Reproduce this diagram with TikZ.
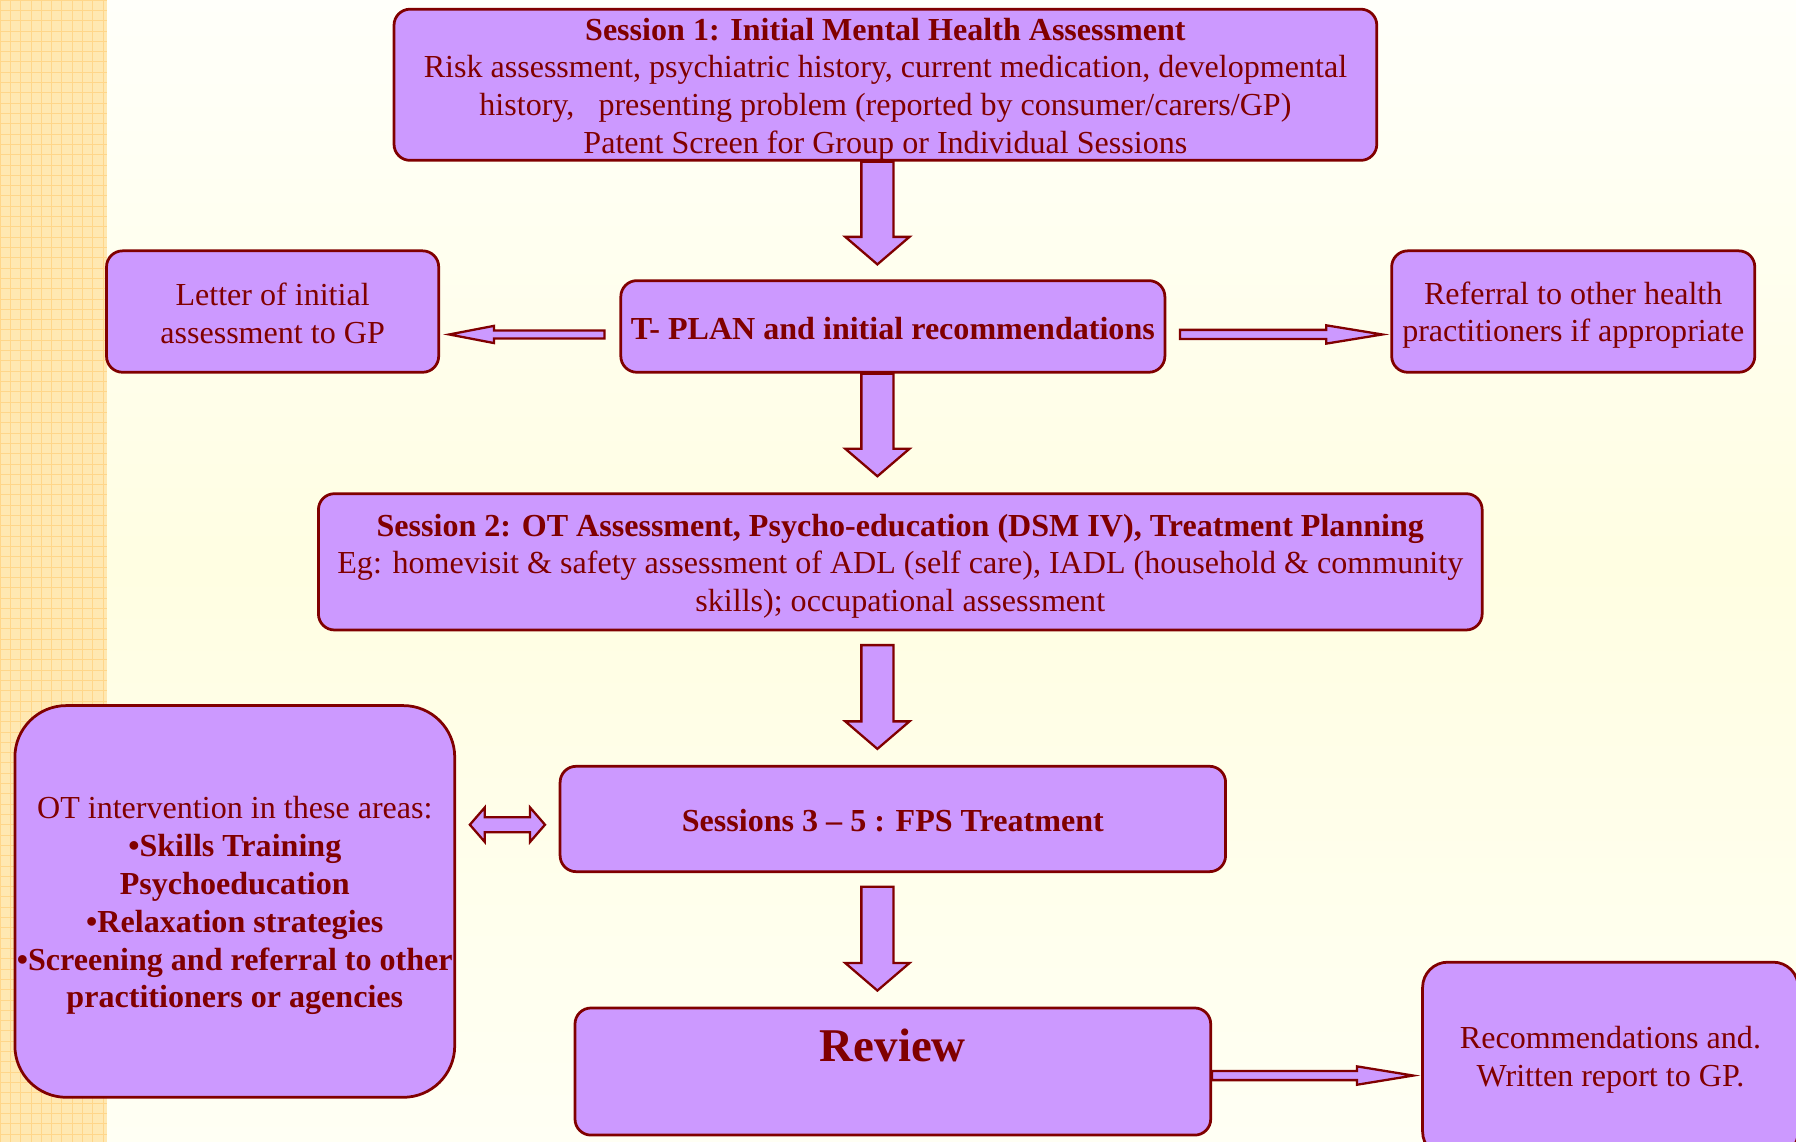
\documentclass[tikz,border=0pt]{standalone}
\usepackage{fontspec}
\setmainfont{Liberation Serif}
\usetikzlibrary{calc}
\definecolor{maroonc}{HTML}{800000}
\definecolor{boxfill}{HTML}{CC99FF}
\definecolor{bgtop}{HTML}{FFFFFA}
\definecolor{bgmid}{HTML}{FFFEE2}
\definecolor{bgbot}{HTML}{FFFFF4}
\definecolor{stripc}{HTML}{FFE8B2}
\definecolor{gridc}{HTML}{FFD68A}
\newcommand\tstrut[1]{\rule{0pt}{#1}}
\tikzset{
  box/.style={draw=maroonc, fill=boxfill, line width=2.4pt, rounded corners=14pt,
    text=maroonc, align=center, inner sep=0pt, font=\fontsize{28}{33}\selectfont},
  blk/.style={draw=maroonc, fill=boxfill, line width=2pt, line join=miter},
  plain/.style={text=maroonc, align=center, inner sep=0pt},
}
\newcommand\vblock[2]{\draw[blk] let \p1=#1, \p2=#2 in
  (\x1-14pt,\y1) -- (\x1-14pt,\y2+24pt) -- (\x1-28pt,\y2+24pt) -- (\x1,\y2)
  -- (\x1+28pt,\y2+24pt) -- (\x1+14pt,\y2+24pt) -- (\x1+14pt,\y1) -- cycle;}
\newcommand\hblock[5]{\draw[blk] let \p1=#1, \p2=#2, \n1={\x2-(#5)} in
  (\x1,\y1-#3) -- (\n1,\y1-#3) -- (\n1,\y1-#4) -- (\x2,\y1)
  -- (\n1,\y1+#4) -- (\n1,\y1+#3) -- (\x1,\y1+#3) -- cycle;}
\newcommand\dblock[2]{\draw[blk] let \p1=#1, \p2=#2 in
  (\x1,\y1) -- (\x1+13pt,\y1+15pt) -- (\x1+13pt,\y1+6.5pt) -- (\x2-13pt,\y1+6.5pt)
  -- (\x2-13pt,\y1+15pt) -- (\x2,\y1) -- (\x2-13pt,\y1-15pt) -- (\x2-13pt,\y1-6.5pt)
  -- (\x1+13pt,\y1-6.5pt) -- (\x1+13pt,\y1-15pt) -- cycle;}
\begin{document}
\begin{tikzpicture}[x=1pt,y=-1pt]
\useasboundingbox (0,0) rectangle (1568,997);
% background
\shade[top color=bgtop, bottom color=bgbot, middle color=bgmid] (0,0) rectangle (1568,997);
\fill[stripc] (0,0) rectangle (93,997);
\foreach \i in {0,9,...,90} \draw[gridc, line width=0.7pt] (\i,0) -- (\i,997);
\foreach \j in {0,9,...,997} \draw[gridc, line width=0.7pt] (0,\j) -- (93,\j);
% boxes
\node[box, minimum width=858pt, minimum height=132pt] (s1) at (773,74)
  {\tstrut{27pt}\textbf{Session 1: Initial Mental Health Assessment}\\
   Risk assessment, psychiatric history, current medication, developmental\\
   history,\ \ \ presenting problem (reported by consumer/carers/GP)\\
   Patent Screen for Group or Individual Sessions};
\node[box, minimum width=290pt, minimum height=106pt] (letter) at (238,272)
  {\tstrut{23pt}Letter of initial\\assessment to GP};
\node[box, minimum width=475pt, minimum height=80pt] (tplan) at (779.5,285)
  {\tstrut{23pt}\textbf{T- PLAN and initial recommendations}};
\node[box, minimum width=317pt, minimum height=106pt] (ref) at (1373.5,272)
  {\tstrut{26pt}Referral to other health\\practitioners if appropriate};
\node[box, minimum width=1016pt, minimum height=119pt] (s2) at (786,490.5)
  {\tstrut{27pt}\textbf{Session 2: OT Assessment, Psycho-education (DSM IV), Treatment Planning}\\
   Eg: homevisit \& safety assessment of ADL (self care), IADL (household \& community\\
   skills); occupational assessment};
\node[box, rounded corners=45pt, minimum width=384pt, minimum height=342pt] (ot) at (205,787)
  {\tstrut{27pt}OT intervention in these areas:\\
   \textbf{•Skills Training}\\
   \textbf{Psychoeducation}\\
   \textbf{•Relaxation strategies}\\
   \textbf{•Screening and referral to other}\\
   \textbf{practitioners or agencies}};
\node[box, minimum width=581pt, minimum height=92pt] (s35) at (779.5,715)
  {\tstrut{23pt}\textbf{Sessions 3 – 5 : FPS Treatment}};
\node[box, minimum width=555pt, minimum height=111pt] (review) at (779.5,935.5) {};
\node[plain, font=\fontsize{41}{48}\selectfont\bfseries] (reviewtext) at (779.5,913) {Review};
\node[box, rounded corners=22pt, minimum width=328pt, minimum height=170pt] (rec) at (1406,925)
  {Recommendations and.\\Written report to GP.};
% arrows
\coordinate (ax) at (766,0);
\vblock{(s1.south -| ax)}{($(tplan.north -| ax)+(0pt,13pt)$)}
\vblock{(tplan.south -| ax)}{($(s2.north -| ax)+(0pt,14pt)$)}
\vblock{($(s2.south -| ax)+(0pt,-12pt)$)}{($(s35.north -| ax)+(0pt,14pt)$)}
\vblock{($(s35.south -| ax)+(0pt,-12pt)$)}{($(review.north -| ax)+(0pt,14pt)$)}
\hblock{($(tplan.west)+(-13pt,-7pt)$)}{($(letter.east)+(8pt,0pt)$)}{3.5pt}{7.5pt}{-39pt}
\hblock{($(tplan.east)+(12pt,-7pt)$)}{($(ref.west)+(-7pt,0pt)$)}{4pt}{8pt}{49pt}
\hblock{($(review.east)+(0pt,-3.5pt)$)}{($(rec.west)+(-7pt,0pt)$)}{4pt}{8pt}{49pt}
\dblock{($(ot.east |- s35.west)+(12pt,-5pt)$)}{($(s35.west)+(-12pt,-5pt)$)}
\end{tikzpicture}
\end{document}
